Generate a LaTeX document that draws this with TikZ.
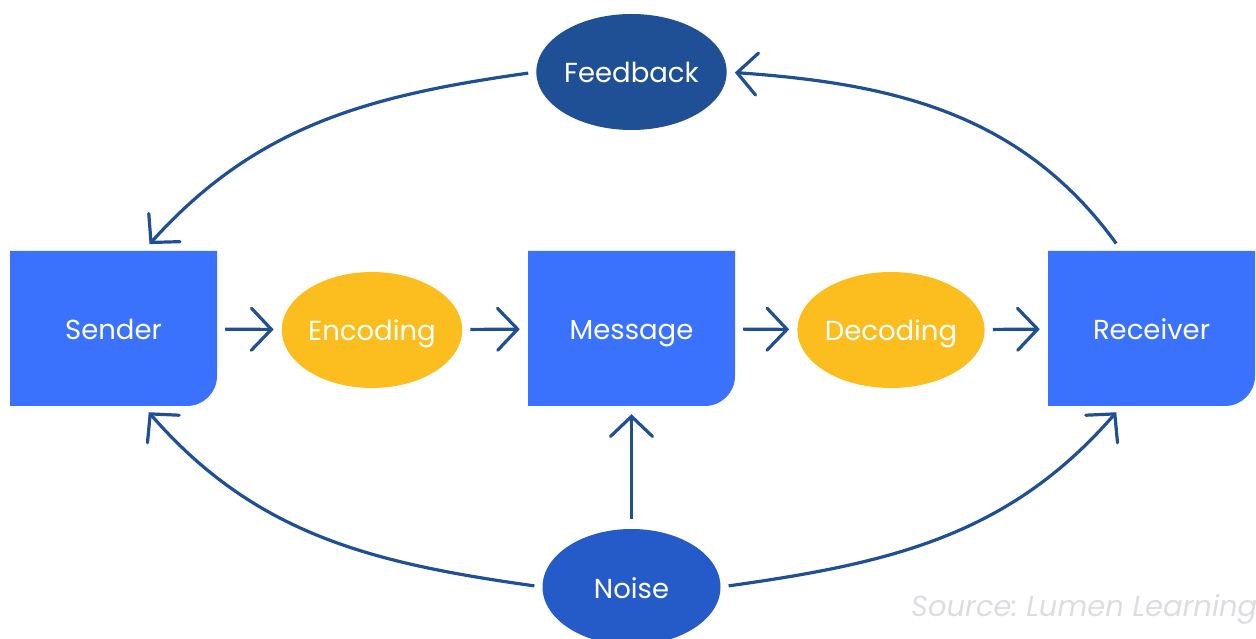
\documentclass[tikz,border=0pt]{standalone}
\usepackage{fontspec}
\setmainfont{Poppins}
\usetikzlibrary{shapes.geometric,arrows.meta}
\definecolor{boxblue}{HTML}{3A72FE}
\definecolor{ovalyellow}{HTML}{FCBE1F}
\definecolor{feedblue}{HTML}{1F5096}
\definecolor{noiseblue}{HTML}{255BC9}
\definecolor{lineblue}{HTML}{1F4F95}
\definecolor{srcgray}{HTML}{DCDDE3}
\frenchspacing

\begin{document}
\begin{tikzpicture}[x=1pt,y=1pt,
    stage/.style={minimum width=207pt, minimum height=155pt, inner sep=0pt, text=white,
        font=\fontsize{27.5}{32}\selectfont, text height=28pt, text depth=6pt,
        path picture={\fill[boxblue] (path picture bounding box.north west) -- (path picture bounding box.north east)
            -- ([yshift=30pt]path picture bounding box.south east) arc (0:-90:30pt)
            -- (path picture bounding box.south west) -- cycle;}},
    oval/.style={ellipse, minimum width=178pt, minimum height=116pt, inner sep=0pt, text=white,
        font=\fontsize{27.5}{32}\selectfont, text height=28pt, text depth=6pt},
    tip/.style={-{Straight Barb[length=20pt,width=42pt,line cap=round]}},
    flow/.style={draw=lineblue, line width=3.2pt, tip, shorten <=8pt, shorten >=8pt},
    loop/.style={draw=lineblue, line width=3.2pt}]
    \useasboundingbox (0,0) rectangle (1256,638);
        % the five stages
        \node[stage] (sender) at (113.5,309.5) {Sender};
        \node[stage] (message) at (631.5,309.5) {Message};
        \node[stage] (receiver) at (1151.5,309.5) {Receiver};
        \node[oval, fill=ovalyellow] (encoding) at (372,308) {Encoding};
        \node[oval, fill=ovalyellow] (decoding) at (891,308) {Decoding};
        \node[oval, fill=feedblue] (feedback) at (631.5,566) {Feedback};
        \node[oval, fill=noiseblue] (noise) at (631.5,51) {Noise};

        % main line
        \draw[flow] (sender) -- (encoding); \draw[flow] (encoding) -- (message); \draw[flow] (message) -- (decoding); \draw[flow] (decoding) -- (receiver);
        \draw[flow, shorten <=10pt] (noise) -- (message);

        % loops round the outside
        \draw[loop, tip, shorten <=8pt, shorten >=9pt] (feedback.west) to[out=188,in=48] ([xshift=30pt]sender.north);
        \draw[loop, tip, shorten <=9pt, shorten >=8pt] ([xshift=-30pt]receiver.north) to[out=126,in=-4] (feedback.east);
        \draw[loop, tip, shorten <=8pt, shorten >=8pt] (noise.west) to[out=172,in=-49] ([xshift=30pt]sender.south);
        \draw[loop, tip, shorten <=8pt, shorten >=8pt] (noise.east) to[out=8,in=229] ([xshift=-30pt]receiver.south);

        \node[anchor=base west, text=srcgray, font=\fontsize{29}{34}\selectfont\itshape, inner sep=0pt] (source) at (911,22) {Source: Lumen Learning};
\end{tikzpicture}
\end{document}
